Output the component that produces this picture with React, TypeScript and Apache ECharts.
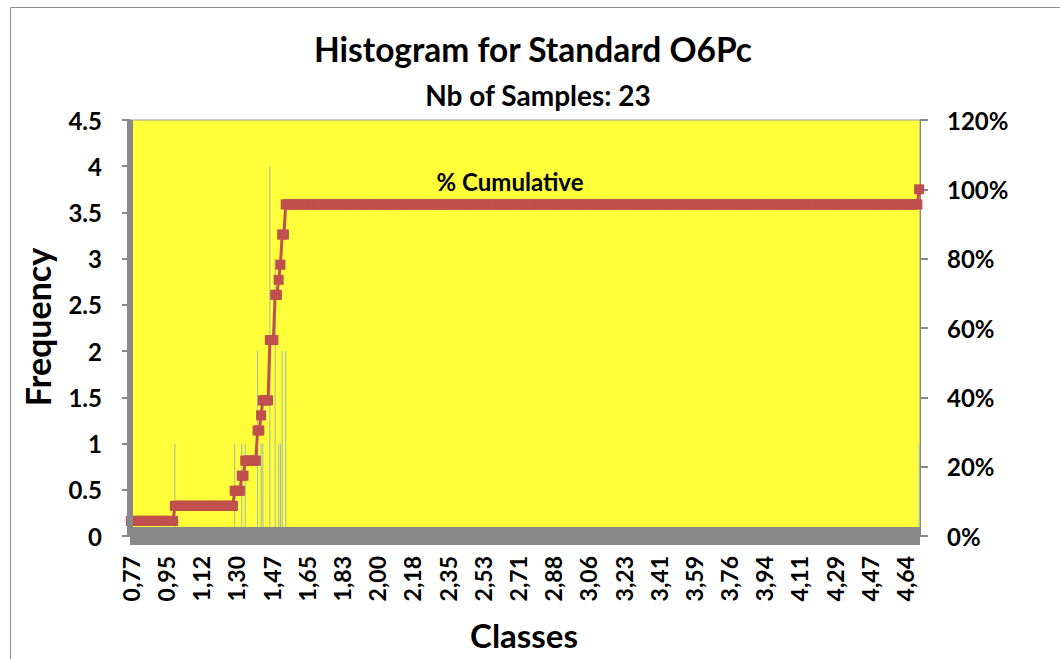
import React, { useEffect, useRef } from 'react';
import * as echarts from 'echarts';

// Classes (bins) of the histogram: 449 bins, one tick label every 20 bins
const CLASS_COUNT = 449;
const LABEL_EVERY = 20;
const tickLabels = [
  '0,77', '0,95', '1,12', '1,30', '1,47', '1,65', '1,83', '2,00', '2,18', '2,35', '2,53',
  '2,71', '2,88', '3,06', '3,23', '3,41', '3,59', '3,76', '3,94', '4,11', '4,29', '4,47', '4,64',
];
// Non-empty bins (index of class) and their frequencies
const occupiedBins = [0, 25, 59, 63, 65, 72, 74, 75, 79, 82, 84, 85, 86, 88, 448];
const binCounts = [1, 1, 1, 1, 1, 2, 1, 1, 4, 3, 1, 1, 2, 2, 1];

const TITLE = 'Histogram for Standard O6Pc';
const FONT = 'Lato, "Liberation Sans", sans-serif';
const RED = '#C0504D';

export default function App() {
  const ref = useRef<HTMLDivElement>(null);

  useEffect(() => {
    document.body.style.margin = '0';
    if (!ref.current) return;
    const chart = echarts.init(ref.current, null, { renderer: 'svg' });

    const categories: string[] = [];
    const freq: number[] = [];
    for (let i = 0; i < CLASS_COUNT; i++) {
      categories.push(String(i));
      freq.push(0);
    }
    occupiedBins.forEach((b, k) => {
      freq[b] = binCounts[k];
    });
    const total = binCounts.reduce((a, b) => a + b, 0);
    const cumulative: number[] = [];
    let run = 0;
    for (let i = 0; i < CLASS_COUNT; i++) {
      run += freq[i];
      cumulative.push((run / total) * 100);
    }

    const axisGrey = '#888888';
    const labelStyle = { fontFamily: FONT, fontWeight: 'bold' as const, fontSize: 24, color: '#000' };

    chart.setOption({
      animation: false,
      backgroundColor: '#ffffff',
      grid: {
        left: 130,
        right: 140,
        top: 120,
        bottom: 123,
        show: true,
        backgroundColor: '#FFFF3A',
        borderColor: '#999999',
        borderWidth: 1,
        containLabel: false,
      },
      xAxis: {
        type: 'category',
        data: categories,
        boundaryGap: true,
        z: 10,
        axisLine: { show: true, lineStyle: { color: axisGrey, width: 18, cap: 'butt' } },
        axisTick: { show: false },
        splitLine: { show: false },
        axisLabel: {
          interval: LABEL_EVERY - 1,
          rotate: 90,
          margin: 20,
          ...labelStyle,
          fontSize: 23,
          formatter: (_v: string, idx: number) => tickLabels[idx / LABEL_EVERY] ?? '',
        },
      },
      yAxis: [
        {
          type: 'value',
          min: 0,
          max: 4.5,
          interval: 0.5,
          position: 'left',
          z: 10,
          axisLine: { show: true, lineStyle: { color: axisGrey, width: 6, cap: 'butt' } },
          axisTick: { show: true, length: 8, lineStyle: { color: axisGrey, width: 2 } },
          splitLine: { show: false },
          axisLabel: { margin: 28, ...labelStyle },
        },
        {
          type: 'value',
          min: 0,
          max: 120,
          interval: 20,
          position: 'right',
          axisLine: { show: true, lineStyle: { color: axisGrey, width: 1 } },
          axisTick: { show: true, length: 8, lineStyle: { color: axisGrey, width: 2 } },
          splitLine: { show: false },
          axisLabel: { margin: 27, ...labelStyle, formatter: '{value}%' },
        },
      ],
      series: [
        {
          name: 'Frequency',
          type: 'bar',
          yAxisIndex: 0,
          data: freq,
          barWidth: 1,
          itemStyle: { color: '#A3B8AE' },
        },
        {
          name: '% Cumulative',
          type: 'line',
          yAxisIndex: 1,
          data: cumulative,
          symbol: 'rect',
          symbolSize: 10,
          showAllSymbol: true,
          lineStyle: { color: RED, width: 3 },
          itemStyle: { color: RED },
          z: 5,
        },
      ],
      graphic: [
        {
          type: 'rect',
          shape: { x: 10.5, y: 7.5, width: 1200, height: 800 },
          style: { fill: 'none', stroke: '#8c8c8c', lineWidth: 1 },
          silent: true,
          z: -10,
        },
        {
          type: 'text',
          x: 533,
          y: 49,
          style: {
            text: TITLE,
            fontFamily: FONT,
            fontWeight: 'bold',
            fontSize: 33.5,
            fill: '#000',
            textAlign: 'center',
            textVerticalAlign: 'middle',
          },
        },
        {
          type: 'text',
          x: 538,
          y: 95,
          style: {
            text: 'Nb of Samples: ' + total,
            fontFamily: FONT,
            fontWeight: 'bold',
            fontSize: 28,
            fill: '#000',
            textAlign: 'center',
            textVerticalAlign: 'middle',
          },
        },
        {
          type: 'text',
          x: 37,
          y: 327,
          rotation: Math.PI / 2,
          style: {
            text: 'Frequency',
            fontFamily: FONT,
            fontWeight: 'bold',
            fontSize: 34,
            fill: '#000',
            textAlign: 'center',
            textVerticalAlign: 'middle',
          },
        },
        {
          type: 'text',
          x: 524,
          y: 635,
          style: {
            text: 'Classes',
            fontFamily: FONT,
            fontWeight: 'bold',
            fontSize: 33,
            fill: '#000',
            textAlign: 'center',
            textVerticalAlign: 'middle',
          },
        },
        {
          type: 'text',
          x: 510,
          y: 181,
          z: 20,
          style: {
            text: '% Cumulative',
            fontFamily: FONT,
            fontWeight: 'bold',
            fontSize: 24,
            fill: '#000',
            textAlign: 'center',
            textVerticalAlign: 'middle',
          },
        },
      ],
    });

    return () => {
      chart.dispose();
    };
  }, []);

  return <div ref={ref} style={{ width: 1060, height: 659 }} />;
}
